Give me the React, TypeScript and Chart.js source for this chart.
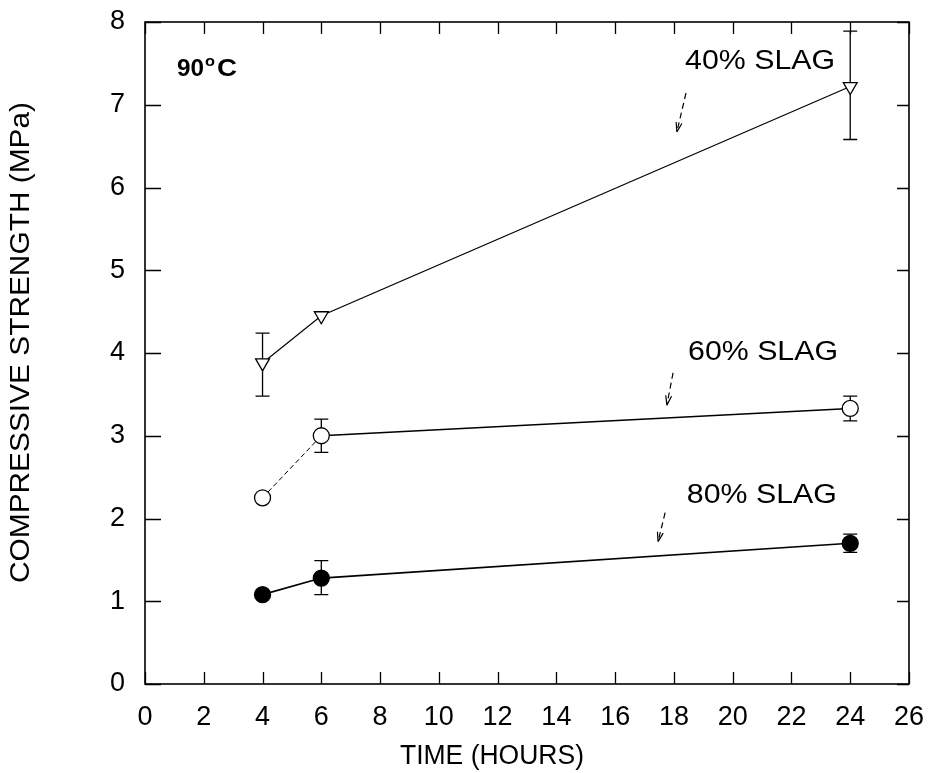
import React, { useEffect, useRef } from "react";
import { Chart, registerables } from "chart.js";

Chart.register(...registerables);

// ---- data ----
const hours = [4, 6, 24];
const slag40 = [3.88, 4.45, 7.22];
const slag40Low = [3.48, null, 6.58];
const slag40High = [4.24, null, 7.89];
const slag60 = [2.25, 3.0, 3.33];
const slag60Low = [null, 2.8, 3.18];
const slag60High = [null, 3.2, 3.48];
const slag80 = [1.08, 1.28, 1.7];
const slag80Low = [null, 1.08, 1.59];
const slag80High = [null, 1.49, 1.81];
const xTickValues = [0, 2, 4, 6, 8, 10, 12, 14, 16, 18, 20, 22, 24, 26];
const yTickValues = [0, 1, 2, 3, 4, 5, 6, 7, 8];
const xTitle = "TIME (HOURS)";
const yTitle = "COMPRESSIVE STRENGTH (MPa)";
const tempLabel = "90";
const seriesLabels = ["40% SLAG", "60% SLAG", "80% SLAG"];
// label anchors in data coordinates (x = left edge, y = middle)
const labelX = [18.38, 18.48, 18.44];
const labelY = [7.52, 4.0, 2.28];
// arrow start/end in data coordinates
const arrowFrom = [
  [18.41, 7.14],
  [17.97, 3.76],
  [17.7, 2.07],
];
const arrowTo = [
  [18.1, 6.67],
  [17.76, 3.37],
  [17.46, 1.72],
];

const FONT = "'Liberation Sans', Arial, sans-serif";

const pts = (ys: number[]) => hours.map((h, i) => ({ x: h, y: ys[i] }));

const errLow = [slag40Low, slag60Low, slag80Low];
const errHigh = [slag40High, slag60High, slag80High];

function fitText(ctx: CanvasRenderingContext2D, text: string, x: number, y: number, width: number) {
  const w = ctx.measureText(text).width;
  ctx.save();
  ctx.translate(x, y);
  ctx.scale(width / w, 1);
  ctx.fillText(text, 0, 0);
  ctx.restore();
}

const decorPlugin = {
  id: "decor",
  beforeDatasetsDraw(chart: any) {
    const ctx = chart.ctx as CanvasRenderingContext2D;
    const xs = chart.scales.x;
    const ys = chart.scales.y;
    const a = chart.chartArea;
    ctx.save();
    ctx.strokeStyle = "#000";
    ctx.lineWidth = 1.6;
    // frame
    ctx.strokeRect(a.left, a.top, a.right - a.left, a.bottom - a.top);
    // inward ticks
    ctx.lineWidth = 1.3;
    ctx.beginPath();
    xTickValues.forEach((v) => {
      const px = Math.round(xs.getPixelForValue(v)) + 0.5;
      ctx.moveTo(px, a.bottom);
      ctx.lineTo(px, a.bottom - 12);
      ctx.moveTo(px, a.top);
      ctx.lineTo(px, a.top + 12);
    });
    yTickValues.forEach((v) => {
      const py = Math.round(ys.getPixelForValue(v)) + 0.5;
      ctx.moveTo(a.left, py);
      ctx.lineTo(a.left + 16, py);
      ctx.moveTo(a.right, py);
      ctx.lineTo(a.right - 12, py);
    });
    ctx.stroke();

    // error bars
    ctx.lineWidth = 1.3;
    errLow.forEach((lows, d) => {
      lows.forEach((lo, i) => {
        const hi = errHigh[d][i];
        if (lo == null || hi == null) return;
        const px = xs.getPixelForValue(hours[i]);
        const pl = ys.getPixelForValue(lo);
        const ph = ys.getPixelForValue(hi);
        ctx.beginPath();
        ctx.moveTo(px, pl);
        ctx.lineTo(px, ph);
        ctx.moveTo(px - 7, pl);
        ctx.lineTo(px + 7, pl);
        ctx.moveTo(px - 7, ph);
        ctx.lineTo(px + 7, ph);
        ctx.stroke();
      });
    });
    ctx.restore();
  },
  afterDatasetsDraw(chart: any) {
    const ctx = chart.ctx as CanvasRenderingContext2D;
    const xs = chart.scales.x;
    const ys = chart.scales.y;
    ctx.save();
    ctx.fillStyle = "#000";
    ctx.strokeStyle = "#000";

    // series labels
    ctx.font = `27px ${FONT}`;
    ctx.textBaseline = "middle";
    ctx.textAlign = "left";
    seriesLabels.forEach((t, i) => {
      fitText(ctx, t, xs.getPixelForValue(labelX[i]), ys.getPixelForValue(labelY[i]), 150);
    });

    // arrows (dashed)
    ctx.lineWidth = 1.2;
    arrowFrom.forEach((f, i) => {
      const x1 = xs.getPixelForValue(f[0]);
      const y1 = ys.getPixelForValue(f[1]);
      const x2 = xs.getPixelForValue(arrowTo[i][0]);
      const y2 = ys.getPixelForValue(arrowTo[i][1]);
      ctx.setLineDash([6, 4]);
      ctx.beginPath();
      ctx.moveTo(x1, y1);
      ctx.lineTo(x2, y2);
      ctx.stroke();
      ctx.setLineDash([]);
      const ang = Math.atan2(y2 - y1, x2 - x1);
      const L = 10;
      ctx.beginPath();
      ctx.moveTo(x2, y2);
      ctx.lineTo(x2 - L * Math.cos(ang - 0.3), y2 - L * Math.sin(ang - 0.3));
      ctx.moveTo(x2, y2);
      ctx.lineTo(x2 - L * Math.cos(ang + 0.3), y2 - L * Math.sin(ang + 0.3));
      ctx.stroke();
    });

    // 90°C label
    const bx = xs.getPixelForValue(1.09);
    const by = ys.getPixelForValue(7.35);
    ctx.textBaseline = "alphabetic";
    ctx.font = `bold 24px ${FONT}`;
    fitText(ctx, tempLabel, bx, by, 27);
    ctx.font = `bold 15px ${FONT}`;
    fitText(ctx, "o", bx + 28, by - 10, 10);
    ctx.font = `bold 24px ${FONT}`;
    fitText(ctx, "C", bx + 40, by, 20);

    // axis titles
    ctx.font = `27px ${FONT}`;
    ctx.textBaseline = "middle";
    ctx.textAlign = "left";
    fitText(ctx, xTitle, 400, 757, 184);
    ctx.save();
    ctx.translate(22, 583);
    ctx.rotate(-Math.PI / 2);
    fitText(ctx, yTitle, 0, 0, 481);
    ctx.restore();
    ctx.restore();
  },
};

export default function App() {
  const ref = useRef<HTMLCanvasElement | null>(null);
  useEffect(() => {
    if (!ref.current) return;
    const lineBase = {
      showLine: true,
      borderColor: "#000",
      pointBorderColor: "#000",
      pointBorderWidth: 1.3,
    };
    const chart = new Chart(ref.current, {
      type: "scatter",
      data: {
        datasets: [
          {
            ...lineBase,
            label: seriesLabels[0],
            data: pts(slag40),
            borderWidth: 1.2,
            pointStyle: "triangle",
            rotation: 180,
            pointRadius: 8,
            backgroundColor: "#fff",
            pointBackgroundColor: "#fff",
          },
          {
            ...lineBase,
            label: seriesLabels[1],
            data: pts(slag60),
            borderWidth: 1.5,
            pointStyle: "circle",
            pointRadius: 8,
            backgroundColor: "#fff",
            pointBackgroundColor: "#fff",
            segment: {
              borderDash: (c: any) => (c.p0DataIndex === 0 ? [5, 3] : undefined),
              borderWidth: (c: any) => (c.p0DataIndex === 0 ? 1 : undefined),
            },
          },
          {
            ...lineBase,
            label: seriesLabels[2],
            data: pts(slag80),
            borderWidth: 1.6,
            pointStyle: "circle",
            pointRadius: 8,
            backgroundColor: "#000",
            pointBackgroundColor: "#000",
          },
        ],
      },
      options: {
        responsive: false,
        animation: false,
        layout: { padding: { top: 22, right: 23, left: 0, bottom: 0 } },
        plugins: {
          legend: { display: false },
          tooltip: { enabled: false },
        },
        scales: {
          x: {
            type: "linear",
            min: 0,
            max: 26,
            border: { display: false },
            grid: { display: false },
            ticks: {
              stepSize: 2,
              color: "#000",
              font: { family: FONT, size: 27 },
              padding: 9,
              maxRotation: 0,
            },
            afterFit: (s: any) => {
              s.height = 89;
              s.paddingLeft = 0;
              s.paddingRight = 0;
            },
          },
          y: {
            type: "linear",
            min: 0,
            max: 8,
            border: { display: false },
            grid: { display: false },
            ticks: {
              stepSize: 1,
              color: "#000",
              font: { family: FONT, size: 27 },
              padding: 12,
            },
            afterFit: (s: any) => {
              s.width = 145;
              s.paddingTop = 0;
              s.paddingBottom = 0;
            },
          },
        },
      },
      plugins: [decorPlugin],
    });
    return () => chart.destroy();
  }, []);
  return (
    <div style={{ position: "absolute", left: 0, top: 0, width: 932, height: 773, background: "#fff" }}>
      <canvas ref={ref} width={932} height={773} style={{ display: "block" }} />
    </div>
  );
}
